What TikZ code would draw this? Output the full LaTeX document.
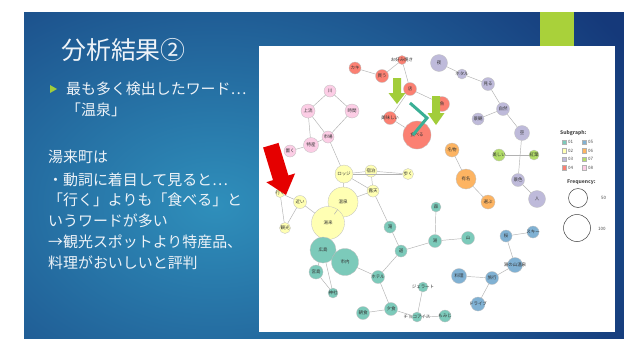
\documentclass[tikz,border=0pt]{standalone}
\usepackage{fontspec}
\newfontfamily\jp{Noto Sans CJK JP}
\definecolor{slidenavy}{HTML}{15397A}
\definecolor{slideteal}{HTML}{2F8FBB}
\definecolor{barlime}{HTML}{A9D13A}
\definecolor{textwhite}{HTML}{EEF3F8}
\definecolor{arrowlime}{HTML}{A2CD3A}
\definecolor{chevronteal}{HTML}{3AAF95}
\definecolor{sgA}{HTML}{7CCABA}
\definecolor{sgB}{HTML}{FFFFB3}
\definecolor{sgC}{HTML}{BEBADA}
\definecolor{sgD}{HTML}{FB8072}
\definecolor{sgE}{HTML}{80B1D3}
\definecolor{sgF}{HTML}{FDB462}
\definecolor{sgG}{HTML}{B3DE69}
\definecolor{sgH}{HTML}{FCCDE5}
\begin{document}
\begin{tikzpicture}[x=1bp, y=-1bp,
    word/.style={circle, draw=black!25, line width=0.3bp, inner sep=0pt},
    link/.style={draw=black!30, line width=0.45bp},
    every label/.style={inner sep=0pt, text=black!80, font=\jp\fontsize{4.5}{5}\selectfont},
    slidetext/.style={anchor=west, inner sep=0pt, text=textwhite, font=\jp\fontsize{15}{18}\selectfont},
    keybox/.style={rectangle, draw=black!30, line width=0.3bp, inner sep=0pt, minimum size=4.5bp},
    keytext/.style={anchor=west, inner sep=0pt, text=black!70, font=\jp\fontsize{4.5}{5}\selectfont}]
\useasboundingbox (0,0) rectangle (624,338);
\fill[white] (0,0) rectangle (624,338);

% slide background
\begin{scope}
  \clip (24,12) rectangle (624,338);
  \fill[slidenavy] (24,12) rectangle (624,338);
  \shade[inner color=slideteal, outer color=slidenavy] (215,205) ellipse (470 and 330);
\end{scope}
\fill[barlime] (540,12) rectangle (574,46);
\fill[white] (259,46) rectangle (615,332);

% left text
\node [anchor=west, inner sep=0pt, text=textwhite, font=\jp\fontsize{25}{30}\selectfont] (title) at (61,50) {分析結果②};
\fill[arrowlime] (50,85) -- (57,89) -- (50,93) -- cycle;
\node [slidetext] (line1) at (66,89) {最も多く検出したワード…};
\node [slidetext] (line2) at (66,110) {「温泉」};
\node [slidetext] (line3) at (48,157) {湯来町は};
\node [slidetext] (line4) at (48,180) {・動詞に着目して見ると…};
\node [slidetext] (line5) at (48,200) {「行く」よりも「食べる」と};
\node [slidetext] (line6) at (48,221) {いうワードが多い};
\node [slidetext] (line7) at (48,242) {→観光スポットより特産品、};
\node [slidetext] (line8) at (48,263) {料理がおいしいと評判};

% subgraph 04
\node [word, fill=sgD, minimum size=9bp, label=center:{お好み焼き}] (r1) at (402,60) {};
\node [word, fill=sgD, minimum size=12bp, label=center:{カキ}] (r2) at (355,68) {};
\node [word, fill=sgD, minimum size=13bp, label=center:{買う}] (r3) at (382,76) {};
\node [word, fill=sgD, minimum size=13bp, label=center:{店}] (r4) at (410,89) {};
\node [word, fill=sgD, minimum size=15bp, label=center:{魚}] (r5) at (442,104) {};
\node [word, fill=sgD, minimum size=13bp, label=center:{美味しい}] (r6) at (390,118) {};
\node [word, fill=sgD, minimum size=28bp, label=center:{食べる}] (r7) at (417,135) {};

% subgraph 08
\node [word, fill=sgH, minimum size=12bp, label=center:{川}] (p1) at (330,91) {};
\node [word, fill=sgH, minimum size=14bp, label=center:{上流}] (p2) at (308,111) {};
\node [word, fill=sgH, minimum size=14bp, label=center:{時間}] (p3) at (352,111) {};
\node [word, fill=sgH, minimum size=12bp, label=center:{市場}] (p4) at (328,137) {};
\node [word, fill=sgH, minimum size=15bp, label=center:{特産}] (p5) at (311,145) {};
\node [word, fill=sgH, minimum size=12bp, label=center:{置く}] (p6) at (290,151) {};

% subgraph 02
\node [word, fill=sgB, minimum size=18bp, label=center:{ロッジ}] (y1) at (344,174) {};
\node [word, fill=sgB, minimum size=12bp, label=center:{宿泊}] (y2) at (371,171) {};
\node [word, fill=sgB, minimum size=11bp, label=center:{歩く}] (y3) at (408,174) {};
\node [word, fill=sgB, minimum size=12bp, label=center:{露天}] (y4) at (373,191) {};
\node [word, fill=sgB, minimum size=30bp, label=center:{温泉}] (y5) at (343,202) {};
\node [word, fill=sgB, minimum size=33bp, label=center:{湯来}] (y6) at (328,223) {};
\node [word, fill=sgB, minimum size=13bp, label=center:{近い}] (y7) at (300,202) {};
\node [word, fill=sgB, minimum size=9bp, label=center:{行く}] (y8) at (280,193) {};
\node [word, fill=sgB, minimum size=11bp, label=center:{観光}] (y9) at (285,228) {};

% subgraph 01
\node [word, fill=sgA, minimum size=26bp, label=center:{広島}] (t1) at (323,250) {};
\node [word, fill=sgA, minimum size=27bp, label=center:{市内}] (t2) at (345,262) {};
\node [word, fill=sgA, minimum size=14bp, label=center:{宮島}] (t3) at (316,272) {};
\node [word, fill=sgA, minimum size=10bp, label=center:{神社}] (t4) at (333,293) {};
\node [word, fill=sgA, minimum size=13bp, label=center:{ホテル}] (t5) at (378,277) {};
\node [word, fill=sgA, minimum size=13bp, label=center:{夕食}] (t6) at (391,309) {};
\node [word, fill=sgA, minimum size=13bp, label=center:{朝食}] (t7) at (363,313) {};
\node [word, fill=sgA, minimum size=10bp, label=center:{チョコアイス}] (t8) at (417,317) {};
\node [word, fill=sgA, minimum size=10bp, label=center:{ジェラート}] (t9) at (423,287) {};
\node [word, fill=sgA, minimum size=12bp, label=center:{もみじ}] (t10) at (445,316) {};
\node [word, fill=sgA, minimum size=12bp, label=center:{滝}] (t11) at (390,227) {};
\node [word, fill=sgA, minimum size=12bp, label=center:{道}] (t12) at (401,251) {};
\node [word, fill=sgA, minimum size=13bp, label=center:{湯}] (t13) at (435,241) {};
\node [word, fill=sgA, minimum size=13bp, label=center:{山}] (t14) at (468,238) {};
\node [word, fill=sgA, minimum size=10bp, label=center:{森}] (t15) at (436,207) {};

% subgraph 05
\node [word, fill=sgE, minimum size=12bp, label=center:{桜}] (b1) at (506,236) {};
\node [word, fill=sgE, minimum size=12bp, label=center:{スキー}] (b2) at (533,232) {};
\node [word, fill=sgE, minimum size=15bp, label=center:{湯の山温泉}] (b3) at (515,265) {};
\node [word, fill=sgE, minimum size=15bp, label=center:{料理}] (b4) at (459,276) {};
\node [word, fill=sgE, minimum size=13bp, label=center:{旅行}] (b5) at (492,278) {};
\node [word, fill=sgE, minimum size=14bp, label=center:{ドライブ}] (b6) at (478,304) {};

% subgraph 06
\node [word, fill=sgF, minimum size=14bp, label=center:{名物}] (o1) at (452,150) {};
\node [word, fill=sgF, minimum size=20bp, label=center:{有名}] (o2) at (466,179) {};
\node [word, fill=sgF, minimum size=14bp, label=center:{選ぶ}] (o3) at (488,202) {};

% subgraph 07
\node [word, fill=sgG, minimum size=12bp, label=center:{美しい}] (g1) at (499,155) {};
\node [word, fill=sgG, minimum size=10bp, label=center:{紅葉}] (g2) at (534,155) {};

% subgraph 03
\node [word, fill=sgC, minimum size=17bp, label=center:{夜}] (l1) at (439,63) {};
\node [word, fill=sgC, minimum size=10bp, label=center:{ホタル}] (l2) at (462,74) {};
\node [word, fill=sgC, minimum size=13bp, label=center:{見る}] (l3) at (488,84) {};
\node [word, fill=sgC, minimum size=13bp, label=center:{自然}] (l4) at (503,109) {};
\node [word, fill=sgC, minimum size=12bp, label=center:{景観}] (l5) at (478,119) {};
\node [word, fill=sgC, minimum size=15bp, label=center:{空}] (l6) at (522,133) {};
\node [word, fill=sgC, minimum size=13bp, label=center:{景色}] (l7) at (518,180) {};
\node [word, fill=sgC, minimum size=17bp, label=center:{人}] (l8) at (537,199) {};

% co-occurrence links
\draw [link] (r2) -- (r3); \draw [link] (r3) -- (r1); \draw [link] (r1) -- (r4);
\draw [link] (r4) -- (r5); \draw [link] (r4) -- (r6); \draw [link] (r6) -- (r7);
\draw [link] (p1) -- (p2); \draw [link] (p1) -- (p3); \draw [link] (p2) -- (p4);
\draw [link] (p2) -- (p5); \draw [link] (p3) -- (p4); \draw [link] (p4) -- (p5);
\draw [link] (p5) -- (p6); \draw [link] (p4) -- (y1);
\draw [link] (y1) -- (y2); \draw [link] (y2) -- (y3); \draw [link] (y1) -- (y3);
\draw [link] (y1) -- (y4); \draw [link] (y2) -- (y4); \draw [link] (y4) -- (y5);
\draw [link] (y1) -- (y5); \draw [link] (y5) -- (y6); \draw [link] (y7) -- (y6);
\draw [link] (y8) -- (y7); \draw [link] (y8) -- (y9); \draw [link] (y7) -- (y9);
\draw [link] (y4) -- (t11);
\draw [link] (t1) -- (t2); \draw [link] (t1) -- (t3); \draw [link] (t3) -- (t4);
\draw [link] (t1) -- (t4); \draw [link] (t2) -- (t5); \draw [link] (t5) -- (t12);
\draw [link] (t11) -- (t12); \draw [link] (t12) -- (t13); \draw [link] (t13) -- (t14);
\draw [link] (t13) -- (t15); \draw [link] (t5) -- (t6); \draw [link] (t6) -- (t7);
\draw [link] (t6) -- (t8); \draw [link] (t8) -- (t9); \draw [link] (t8) -- (t10);
\draw [link] (b1) -- (b2); \draw [link] (b1) -- (b3); \draw [link] (b3) -- (b5);
\draw [link] (b4) -- (b5); \draw [link] (b5) -- (b6);
\draw [link] (o1) -- (o2); \draw [link] (o2) -- (o3);
\draw [link] (g1) -- (g2);
\draw [link] (l1) -- (l2); \draw [link] (l2) -- (l3); \draw [link] (l3) -- (l4);
\draw [link] (l4) -- (l5); \draw [link] (l4) -- (l6); \draw [link] (l6) -- (l7);
\draw [link] (l7) -- (l8);

% legend
\node [keytext, font=\jp\bfseries\fontsize{5}{6}\selectfont] (subgraph) at (560,133) {Subgraph:};
\node [keybox, fill=sgA] (k1) at (564,142) {}; \node [keytext] (k1t) at (568,142) {01};
\node [keybox, fill=sgB] (k2) at (564,150.5) {}; \node [keytext] (k2t) at (568,150.5) {02};
\node [keybox, fill=sgC] (k3) at (564,159) {}; \node [keytext] (k3t) at (568,159) {03};
\node [keybox, fill=sgD] (k4) at (564,167.5) {}; \node [keytext] (k4t) at (568,167.5) {04};
\node [keybox, fill=sgE] (k5) at (584,142) {}; \node [keytext] (k5t) at (588,142) {05};
\node [keybox, fill=sgF] (k6) at (584,150.5) {}; \node [keytext] (k6t) at (588,150.5) {06};
\node [keybox, fill=sgG] (k7) at (584,159) {}; \node [keytext] (k7t) at (588,159) {07};
\node [keybox, fill=sgH] (k8) at (584,167.5) {}; \node [keytext] (k8t) at (588,167.5) {08};
\node [keytext, font=\jp\bfseries\fontsize{5}{6}\selectfont] (frequency) at (567,182) {Frequency:};
\node [circle, draw=black!75, line width=0.5bp, minimum size=19bp, inner sep=0pt] (f50) at (578,198) {};
\node [keytext] (f50t) at (601,198) {50};
\node [circle, draw=black!75, line width=0.5bp, minimum size=27bp, inner sep=0pt] (f100) at (577,228) {};
\node [keytext] (f100t) at (598,229) {100};

% marks
\fill[red!90!black] (263.1,147.5) -- (278.5,142.9) -- (288.4,175.5) -- (295.1,173.4) -- (286,195) -- (266.3,182.2) -- (273.0,180.1) -- cycle;
\fill[arrowlime] (393,78) -- (401,78) -- (401,93) -- (405.5,93) -- (397,104) -- (388.5,93) -- (393,93) -- cycle;
\fill[arrowlime] (432,96) -- (440,96) -- (440,113) -- (444.5,113) -- (436,125) -- (427.5,113) -- (432,113) -- cycle;
\draw[chevronteal, line width=3bp] (410,103) -- (427,118) -- (413,135);
\end{tikzpicture}
\end{document}
